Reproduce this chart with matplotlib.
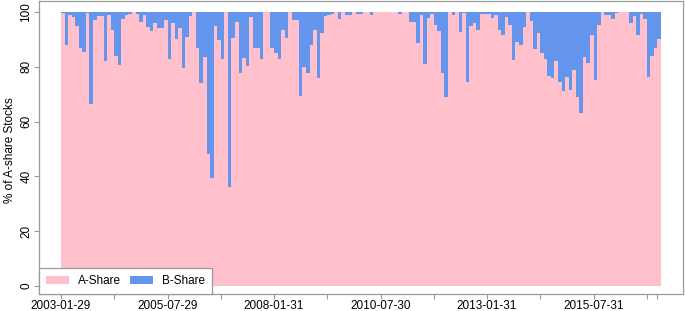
# =============================================================================
# LIBRARIES
# =============================================================================

import numpy as np
from matplotlib import pyplot as plt
from matplotlib.patches import Patch

# =============================================================================
# DATA
# =============================================================================

# share (%) of B-share stocks for each month
b_share = [
    0.5, 12, 1, 2, 5, 13, 14.5, 0.5, 33.5, 3,
    1.5, 1.3, 18, 1, 6.5, 16, 19.5, 2.5, 1, 0.8,
    0, 0.8, 3.8, 1, 5.4, 7, 4, 5.7, 6, 2.9,
    17, 4, 10, 6, 20.5, 9, 1.3, 0, 13.3, 26,
    16.3, 52, 60.5, 5, 10.2, 17, 0, 64, 9.6, 3.8,
    22.4, 16.7, 19.7, 2, 13.3, 13, 17, 0, 0, 13.3,
    15, 17, 6.6, 9.4, 0, 3, 3, 30.6, 20, 22.4,
    12, 6.6, 24, 7.5, 1.3, 1, 0.8, 0, 2.6, 0,
    1, 1, 0, 0.8, 0.8, 0, 0, 1, 0, 0,
    0, 0, 0, 0, 0, 0.8, 0, 0, 3.8, 3.8,
    11.4, 1, 19, 2.3, 0.8, 4.7, 7, 22.4, 31, 0,
    1, 0, 7.2, 0.5, 25.4, 5, 4, 6.6, 0.8, 0.8,
    0.8, 2.3, 1.1, 6.5, 8.4, 2, 4.6, 17.4, 10.8, 12,
    5.5, 0, 3.2, 13.6, 7.5, 15, 17.3, 23.4, 24, 18,
    25.4, 29, 23.7, 28.5, 21, 31, 37, 16.5, 18.5, 8.3,
    24.8, 4.8, 0, 1, 1, 2.7, 0.5, 0, 0, 0,
    4.2, 1.5, 8.4, 0.7, 2.6, 23.6, 16, 13.2, 9.8,
]

tick_labels = ["2003-01-29", "2005-07-29", "2008-01-31",
               "2010-07-30", "2013-01-31", "2015-07-31"]
legend_labels = ["A-Share", "B-Share"]

COR_A = "#FFC0CB"
COR_B = "#6495ED"
COR_BOX = "#9a9a9a"

# =============================================================================
# PLOT
# =============================================================================

plt.rcParams["font.family"] = ["Liberation Sans", "DejaVu Sans"]

b = np.array(b_share, dtype=float)
a = 100 - b
x = np.arange(len(b))

fig = plt.figure(figsize=(6.85, 3.11), dpi=100)
# box from x=39..683 px, y=1..294 px
ax = fig.add_axes([39 / 685, 1 - 294 / 311, 644 / 685, 293 / 311])

ax.bar(x, a, width=1, align="edge", color=COR_A, linewidth=0)
ax.bar(x, b, bottom=a, width=1, align="edge", color=COR_B, linewidth=0)

ax.set_xlim(-6.2, len(b) + 6.2)
ax.set_ylim(-2.9, 104)

# x ticks every 15 months, labels every 30, plus the last bar
pos = list(range(0, len(b), 15)) + [len(b) - 1]
lab = []
for p in pos:
    if p % 30 == 0 and p // 30 < len(tick_labels):
        lab.append(tick_labels[p // 30])
    else:
        lab.append("")
ax.set_xticks(pos)
ax.set_xticklabels(lab, fontsize=8.5)

ax.set_yticks(range(0, 101, 20))
ax.set_yticklabels([str(v) for v in range(0, 101, 20)], rotation=90,
                   va="center", fontsize=8.5)

ax.tick_params(axis="both", length=3.5, width=0.8, color=COR_BOX, pad=1.2)
ax.tick_params(axis="x", pad=0.6)

for s in ax.spines.values():
    s.set_color(COR_BOX)
    s.set_linewidth(0.9)

fig.text(10 / 685, 1 - 150 / 311, "% of A-share Stocks", rotation=90,
         ha="center", va="center", fontsize=8.5)

handles = [Patch(facecolor=COR_A, edgecolor="none"),
           Patch(facecolor=COR_B, edgecolor="none")]
leg = ax.legend(handles, legend_labels, loc="lower left", bbox_to_anchor=(0, 0),
                ncol=2, fontsize=8.5, frameon=True, fancybox=False,
                framealpha=1, borderaxespad=0, handlelength=1.9,
                handleheight=0.7, handletextpad=0.8, columnspacing=0.8,
                borderpad=0.6)
leg.get_frame().set_edgecolor(COR_BOX)
leg.get_frame().set_linewidth(0.9)

plt.savefig("out.png", dpi=100)
